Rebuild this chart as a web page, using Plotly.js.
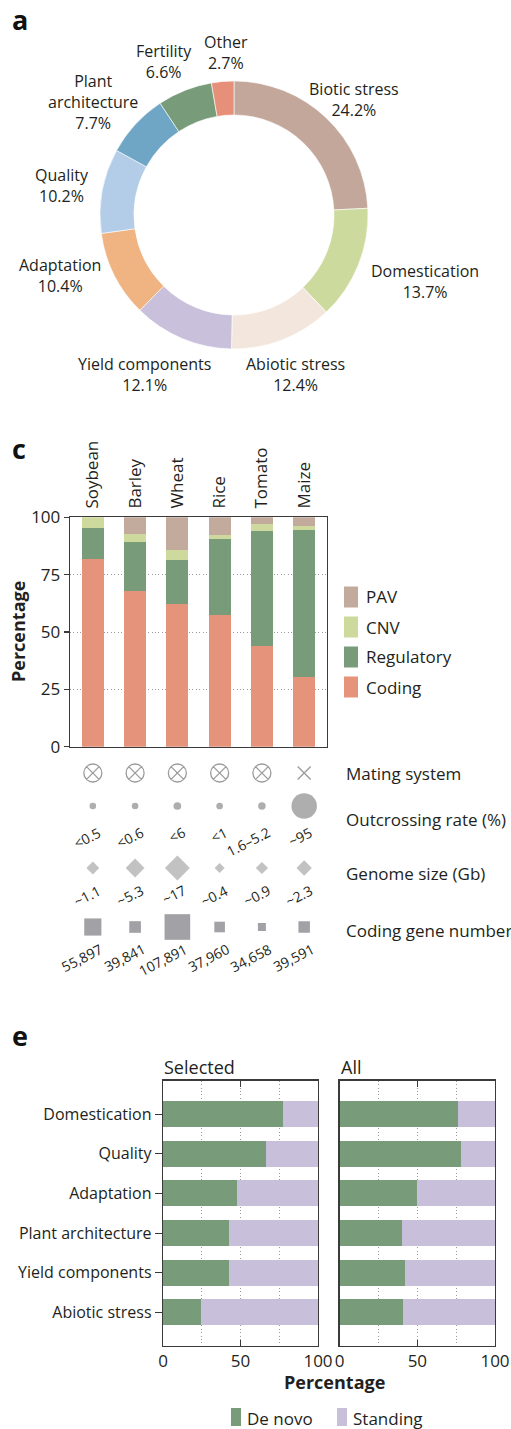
<!DOCTYPE html>
<html><head><meta charset="utf-8">
<script src="https://cdn.plot.ly/plotly-3.0.1.min.js"></script>
<style>html,body{margin:0;padding:0;background:#fff}#chart{width:511px;height:1429px}</style>
</head><body><div id="chart"></div>
<script>
// ---------- Panel a data ----------
const traitLabels = ['Biotic stress','Domestication','Abiotic stress','Yield components','Adaptation','Quality','Plant<br>architecture','Fertility','Other'];
const traitShares = [24.2,13.7,12.4,12.1,10.4,10.2,7.7,6.6,2.7];
const traitColors = ['#c2a79a','#ccda9e','#f3e7dd','#c9c0dc','#f0b482','#b3cde8','#6fa5c5','#789c7a','#e6907a'];

// ---------- Panel c data ----------
const crops = ['Soybean','Barley','Wheat','Rice','Tomato','Maize'];
const codingPct = [81.8,67.9,62.2,57.4,43.9,30.4];
const regulatoryPct = [13.5,21.3,19.2,33.2,50.1,64.1];
const cnvPct = [4.7,3.5,4.4,1.6,3.1,1.7];
const pavPct = [0,7.3,14.2,7.8,2.9,3.8];
const matingSystem = ['selfing','selfing','selfing','selfing','selfing','outcrossing'];
const outcrossRate = [0.5,0.6,6,1,5.2,95];
const outcrossLabels = ['<0.5','<0.6','<6','<1','1.6–5.2','~95'];
const genomeSizeGb = [1.1,5.3,17,0.4,0.9,2.3];
const genomeLabels = ['~1.1','~5.3','~17','~0.4','~0.9','~2.3'];
const codingGenes = [55897,39841,107891,37960,34658,39591];
const rowLabels = ['Mating system','Outcrossing rate (%)','Genome size (Gb)','Coding gene number'];

// ---------- Panel e data ----------
const traitsE = ['Domestication','Quality','Adaptation','Plant architecture','Yield components','Abiotic stress'];
const deNovoSelected = [77.4,66.5,47.7,42.6,42.6,24.5];
const deNovoAll = [76.2,78.1,49.8,40.1,42.1,40.8];

// ---------- helpers ----------
const W = 511, H = 1429;
const px = x => x / W, py = y => 1 - y / H;
const FONT = "'Open Sans', sans-serif";
const TXT = '#231f20';
const AX = '#3a3a3a';
const GRID = '#9a9a9a';
const DOTS = '1px,2.4px';
const meas = document.createElement('canvas').getContext('2d');
function textW(str, size) {
  meas.font = size + 'px ' + FONT;
  return Math.max(...str.split('<br>').map(s => meas.measureText(s).width));
}

const data = [];
const annotations = [];
const shapes = [];

// ---------- Panel a: donut ----------
const cx = 234, cy = 215, R = 134;
// small manual label nudges (layout only), px
const labelNudge = [[-7,1],[11,7],[-7,10],[-9,12],[-12,-11],[-8,0],[-5,3],[-8,-4],[6,-3]];
data.push({
  type: 'pie', values: traitShares, labels: traitLabels.map(l => l.replace('<br>', ' ')),
  marker: {colors: traitColors, line: {color: '#ffffff', width: 0.6}},
  hole: 100 / 134, sort: false, direction: 'clockwise', rotation: 0,
  textinfo: 'none', hoverinfo: 'label+percent', showlegend: false,
  domain: {x: [px(cx - R), px(cx + R)], y: [py(cy + R), py(cy - R)]}
});
let cum = 0;
traitShares.forEach((s, i) => {
  const th = (cum + s / 2) / 100 * 2 * Math.PI;
  cum += s;
  const txt = traitLabels[i] + '<br>' + s.toFixed(1) + '%';
  const lines = txt.split('<br>').length;
  const w = textW(txt, 16), h = lines * 20.5;
  const Rg = R + 6;
  const x = cx + Rg * Math.sin(th) + w / 2 * Math.sin(th) + labelNudge[i][0];
  const y = cy - Rg * Math.cos(th) - h / 2 * Math.cos(th) + labelNudge[i][1];
  annotations.push({xref: 'paper', yref: 'paper', x: px(x), y: py(y), text: txt, showarrow: false,
    xanchor: 'center', yanchor: 'middle', align: 'center', font: {size: 16, color: TXT, family: FONT}});
});

// ---------- Panel c: stacked bars ----------
const seriesC = [
  {name: 'Coding', values: codingPct, color: '#e6937b'},
  {name: 'Regulatory', values: regulatoryPct, color: '#789c7a'},
  {name: 'CNV', values: cnvPct, color: '#cdd99d'},
  {name: 'PAV', values: pavPct, color: '#c2aa9d'}
];
seriesC.forEach(s => data.push({
  type: 'bar', x: crops, y: s.values, name: s.name, xaxis: 'x', yaxis: 'y',
  marker: {color: s.color, line: {width: 0}}, width: 0.52, showlegend: false
}));
seriesC.slice().reverse().forEach((s, i) => {
  const yc = 597 + i * 30;
  shapes.push({type: 'rect', xref: 'paper', yref: 'paper', x0: px(344), x1: px(358), y0: py(yc + 10.5), y1: py(yc - 10.5),
    fillcolor: s.color, line: {width: 0}});
  annotations.push({xref: 'paper', yref: 'paper', x: px(364), y: py(yc), text: s.name, showarrow: false,
    xanchor: 'left', yanchor: 'middle', font: {size: 17, color: TXT, family: FONT}});
});
annotations.push({xref: 'paper', yref: 'paper', x: px(18), y: py(632), text: '<b>Percentage</b>', textangle: -90,
  showarrow: false, xanchor: 'center', yanchor: 'middle', font: {size: 18, color: TXT, family: FONT}});

// ---------- Panel c: symbol rows (y3 axis is in px below y=760) ----------
const ROW = {mating: 13, outcross: 46, genome: 108, coding: 167};
data.push({
  type: 'scatter', mode: 'markers', x: crops, y: crops.map(() => ROW.mating), xaxis: 'x3', yaxis: 'y3',
  marker: {symbol: matingSystem.map(m => m === 'selfing' ? 'circle-x-open' : 'x-thin-open'),
    size: matingSystem.map(m => m === 'selfing' ? 18 : 13), color: '#707070', line: {width: 1.3, color: '#707070'}},
  showlegend: false, hoverinfo: 'skip'
});
data.push({
  type: 'scatter', mode: 'markers', x: crops, y: crops.map(() => ROW.outcross), xaxis: 'x3', yaxis: 'y3',
  marker: {symbol: 'circle', size: outcrossRate.map(v => 6.5 + 0.2 * v), color: '#8c8c8c', line: {width: 0}},
  showlegend: false, hoverinfo: 'skip'
});
data.push({
  type: 'scatter', mode: 'markers', x: crops, y: crops.map(() => ROW.genome), xaxis: 'x3', yaxis: 'y3',
  marker: {symbol: 'diamond', size: genomeSizeGb.map(v => 9.64 * Math.pow(v, 0.243)), color: '#a8a8a8', line: {width: 0}},
  showlegend: false, hoverinfo: 'skip'
});
data.push({
  type: 'scatter', mode: 'markers', x: crops, y: crops.map(() => ROW.coding), xaxis: 'x3', yaxis: 'y3',
  marker: {symbol: 'square', size: codingGenes.map(v => 5.69 * Math.pow((v - 32000) / 1000, 0.348)), color: '#7b7b80', line: {width: 0}},
  showlegend: false, hoverinfo: 'skip'
});
const ANG = 27 * Math.PI / 180;
const valueRows = [
  {labels: outcrossLabels, endY: 71, endDx: 7},
  {labels: genomeLabels, endY: 129, endDx: 7},
  {labels: codingGenes.map(v => v.toLocaleString('en-US')), endY: 188, endDx: 9}
];
valueRows.forEach(r => r.labels.forEach((t, i) => {
  const w = textW(t, 14);
  annotations.push({
    xref: 'x3', yref: 'y3', x: crops[i], y: r.endY + (w / 2) * Math.sin(ANG),
    xshift: r.endDx - (w / 2) * Math.cos(ANG), text: t, textangle: -27, showarrow: false,
    xanchor: 'center', yanchor: 'middle', font: {size: 14, color: TXT, family: FONT}
  });
}));
[773, 819, 874, 930].forEach((y, i) => annotations.push({
  xref: 'paper', yref: 'paper', x: px(344), y: py(y), text: rowLabels[i], showarrow: false,
  xanchor: 'left', yanchor: 'middle', font: {size: 17, color: TXT, family: FONT}
}));

// ---------- Panel e ----------
const standingSelected = deNovoSelected.map(v => 100 - v);
const standingAll = deNovoAll.map(v => 100 - v);
const GREEN = '#789c7a', LILAC = '#c8bfdb';
[[deNovoSelected, standingSelected, 'x4', 'y4'], [deNovoAll, standingAll, 'x5', 'y5']].forEach(([dn, st, xa, ya]) => {
  data.push({type: 'bar', orientation: 'h', x: dn, y: traitsE, name: 'De novo', xaxis: xa, yaxis: ya,
    marker: {color: GREEN, line: {width: 0}}, width: 0.655, showlegend: false});
  data.push({type: 'bar', orientation: 'h', x: st, y: traitsE, name: 'Standing', xaxis: xa, yaxis: ya,
    marker: {color: LILAC, line: {width: 0}}, width: 0.655, showlegend: false});
});
annotations.push({xref: 'paper', yref: 'paper', x: px(162), y: py(1067), text: 'Selected', showarrow: false,
  xanchor: 'left', yanchor: 'middle', font: {size: 18, color: TXT, family: FONT}});
annotations.push({xref: 'paper', yref: 'paper', x: px(339), y: py(1067), text: 'All', showarrow: false,
  xanchor: 'left', yanchor: 'middle', font: {size: 18, color: TXT, family: FONT}});
annotations.push({xref: 'paper', yref: 'paper', x: px(334), y: py(1382), text: '<b>Percentage</b>', showarrow: false,
  xanchor: 'center', yanchor: 'middle', font: {size: 18, color: TXT, family: FONT}});
[['De novo', GREEN, 231], ['Standing', LILAC, 337]].forEach(([n, c, x0]) => {
  shapes.push({type: 'rect', xref: 'paper', yref: 'paper', x0: px(x0), x1: px(x0 + 10), y0: py(1426), y1: py(1408),
    fillcolor: c, line: {width: 0}});
  annotations.push({xref: 'paper', yref: 'paper', x: px(x0 + 14), y: py(1418), text: n, showarrow: false,
    xanchor: 'left', yanchor: 'middle', font: {size: 17, color: TXT, family: FONT}});
});

// panel letters
[['a', 20], ['c', 449], ['e', 1035]].forEach(([t, y]) => annotations.push({
  xref: 'paper', yref: 'paper', x: px(10), y: py(y), text: '<b>' + t + '</b>', showarrow: false,
  xanchor: 'left', yanchor: 'middle', font: {size: 27, color: '#111', family: FONT}
}));

// ---------- layout ----------
const tickF = {size: 17, color: TXT, family: FONT};
const layout = {
  width: W, height: H, margin: {l: 0, r: 0, t: 0, b: 0},
  paper_bgcolor: '#fff', plot_bgcolor: 'rgba(0,0,0,0)',
  barmode: 'stack', font: {family: FONT, color: TXT},
  xaxis: {domain: [px(70), px(327)], anchor: 'y', side: 'top', type: 'category', range: [-0.54, 5.54],
    tickangle: -90, ticks: '', ticklabelstandoff: 4, showline: true, mirror: true, linecolor: AX, linewidth: 1.3,
    showgrid: false, tickfont: tickF},
  xaxis2: {overlaying: 'x', anchor: 'y', side: 'bottom', type: 'linear', range: [-0.54, 5.54], tickvals: [0,1,2,3,4,5],
    ticks: 'outside', ticklen: 5, tickwidth: 1.2, tickcolor: AX, showticklabels: false, showgrid: false, zeroline: false, showline: false},
  yaxis: {domain: [py(746.7), py(517.3)], anchor: 'x', range: [0, 100], tickvals: [0,25,50,75,100], ticks: 'outside',
    ticklen: 5, tickwidth: 1.2, tickcolor: AX, showline: true, mirror: true, linecolor: AX, linewidth: 1.3,
    showgrid: true, gridcolor: GRID, griddash: DOTS, gridwidth: 1, zeroline: false, tickfont: tickF},
  yaxis2: {overlaying: 'y', anchor: 'x', side: 'right', range: [0, 100], tickvals: [25,50,75], ticks: 'inside',
    ticklen: 5, tickwidth: 1.2, tickcolor: AX, showticklabels: false, showgrid: false, zeroline: false, showline: false},
  xaxis3: {domain: [px(70), px(327)], anchor: 'y3', type: 'category', range: [-0.54, 5.54], visible: false},
  yaxis3: {domain: [py(965), py(760)], anchor: 'x3', range: [205, 0], visible: false},
  xaxis4: {domain: [px(163), px(318)], anchor: 'y4', range: [0, 100], tickvals: [0,50,100], ticks: 'inside', ticklen: 6,
    tickcolor: AX, showline: true, mirror: 'ticks', linecolor: AX, linewidth: 1.3, showgrid: true, gridcolor: GRID,
    griddash: DOTS, zeroline: false, tickfont: tickF,
    minor: {dtick: 25, showgrid: true, gridcolor: GRID, griddash: DOTS, ticks: ''}},
  yaxis4: {domain: [py(1345.7), py(1080.7)], anchor: 'x4', type: 'category', range: [5.84, -0.84], ticks: 'outside',
    ticklen: 7, tickcolor: AX, showline: true, mirror: true, linecolor: AX, linewidth: 1.3, showgrid: false,
    tickfont: {size: 16, color: TXT, family: FONT}},
  xaxis5: {domain: [px(339.7), px(495)], anchor: 'y5', range: [0, 100], tickvals: [0,50,100], ticks: 'inside', ticklen: 6,
    tickcolor: AX, showline: true, mirror: 'ticks', linecolor: AX, linewidth: 1.3, showgrid: true, gridcolor: GRID,
    griddash: DOTS, zeroline: false, tickfont: tickF,
    minor: {dtick: 25, showgrid: true, gridcolor: GRID, griddash: DOTS, ticks: ''}},
  yaxis5: {domain: [py(1345.7), py(1080.7)], anchor: 'x5', type: 'category', range: [5.84, -0.84], ticks: '',
    showticklabels: false, showline: true, mirror: true, linecolor: AX, linewidth: 1.3, showgrid: false},
  annotations: annotations, shapes: shapes
};
Plotly.newPlot('chart', data, layout, {staticPlot: true, displayModeBar: false});
</script></body></html>
